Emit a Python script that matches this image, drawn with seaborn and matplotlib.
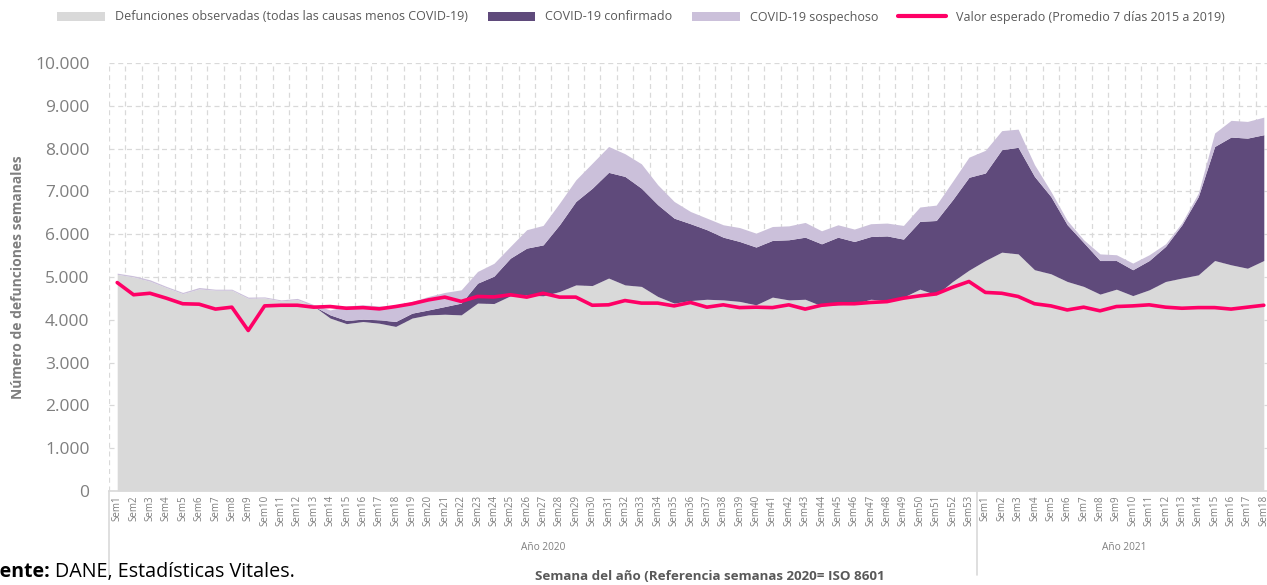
import numpy as np
import pandas as pd
import matplotlib
matplotlib.use("Agg")
import matplotlib.pyplot as plt
import matplotlib.transforms as mtransforms
from matplotlib.patches import Patch
from matplotlib.lines import Line2D
from matplotlib.ticker import FuncFormatter, MultipleLocator
import seaborn as sns

# Semanas: 53 de 2020 y 18 de 2021
semanas_2020 = [f"Sem{i}" for i in range(1, 54)]
semanas_2021 = [f"Sem{i}" for i in range(1, 19)]
etiquetas = semanas_2020 + semanas_2021

# Defunciones observadas (todas las causas menos COVID-19)
observadas = [
    5060, 5000, 4900, 4750, 4610, 4720, 4690, 4690, 4500, 4510,
    4440, 4470, 4320, 4040, 3910, 3960, 3920, 3845, 4040, 4115,
    4130, 4115, 4390, 4380, 4560, 4580, 4560, 4660, 4815, 4800,
    4975, 4815, 4780, 4545, 4390, 4450, 4480, 4465, 4430, 4350,
    4530, 4465, 4480, 4325, 4350, 4375, 4480, 4450, 4530, 4715,
    4585, 4895, 5160,
    5385, 5580, 5540, 5170, 5075, 4895, 4780, 4600, 4715, 4565,
    4700, 4895, 4975, 5050, 5385, 5285, 5205, 5385,
]

# COVID-19 confirmado
confirmados = [
    0, 0, 0, 0, 0, 0, 0, 0, 0, 0,
    0, 0, 0, 75, 75, 55, 80, 115, 115, 115,
    180, 275, 466, 640, 880, 1095, 1190, 1560, 1950, 2275,
    2470, 2535, 2295, 2145, 1985, 1795, 1625, 1465, 1400, 1350,
    1325, 1405, 1450, 1450, 1580, 1455, 1465, 1510, 1355, 1585,
    1735, 1910, 2170,
    2045, 2395, 2490, 2180, 1805, 1325, 1025, 785, 670, 605,
    685, 820, 1245, 1830, 2665, 2985, 3040, 2940,
]

# COVID-19 sospechoso
sospechosos = [
    30, 30, 35, 30, 30, 35, 25, 25, 30, 25,
    25, 30, 35, 115, 340, 335, 325, 365, 275, 315,
    330, 310, 274, 300, 275, 430, 455, 505, 505, 585,
    605, 530, 570, 465, 390, 285, 270, 290, 325, 325,
    325, 325, 345, 305, 290, 290, 300, 300, 320, 335,
    360, 430, 470,
    530, 445, 425, 275, 120, 100, 65, 155, 135, 155,
    135, 60, 50, 80, 315, 390, 390, 410,
]

# Valor esperado (Promedio 7 dias 2015 a 2019)
esperado = [
    4870, 4585, 4620, 4505, 4375, 4365, 4250, 4295, 3750, 4325,
    4340, 4340, 4295, 4310, 4270, 4285, 4255, 4310, 4375, 4465,
    4530, 4430, 4545, 4535, 4585, 4530, 4620, 4530, 4530, 4340,
    4350, 4450, 4390, 4390, 4325, 4405, 4295, 4350, 4285, 4295,
    4285, 4350, 4250, 4340, 4375, 4375, 4405, 4425, 4505, 4560,
    4605, 4760, 4895,
    4640, 4620, 4545, 4375, 4325, 4230, 4295, 4210, 4310, 4325,
    4350, 4295, 4270, 4285, 4285, 4250, 4295, 4340,
]

df = pd.DataFrame({
    "pos": np.arange(1, len(etiquetas) + 1),
    "semana": etiquetas,
    "observadas": observadas,
    "confirmados": confirmados,
    "sospechosos": sospechosos,
    "esperado": esperado,
})

GRIS = "#D9D9D9"
MORADO = "#5F4A7B"
LILA = "#CBC0DA"
ROSA = "#FF0066"
TXT = "#7F7F7F"

sns.set_theme(style="white")
plt.rcParams["font.family"] = ["Open Sans", "DejaVu Sans"]

fig = plt.figure(figsize=(12.67, 5.85), dpi=100)
ax = fig.add_axes([109 / 1267, 94 / 585, 1163 / 1267, 428 / 585])

ax.stackplot(df["pos"], df["observadas"], df["confirmados"], df["sospechosos"],
             colors=[GRIS, MORADO, LILA], linewidth=0, zorder=2)
sns.lineplot(data=df, x="pos", y="esperado", color=ROSA, linewidth=2.6,
             ax=ax, zorder=3, legend=False)

n = len(etiquetas)
ax.set_xlim(0.5, n + 0.5)
ax.set_ylim(0, 10000)
ax.set_xlabel("")
ax.set_ylabel("")

# grid
ax.set_axisbelow(True)
ax.yaxis.set_major_locator(MultipleLocator(1000))
ax.yaxis.set_major_formatter(FuncFormatter(lambda v, p: f"{int(v):,}".replace(",", ".")))
ax.grid(axis="y", which="major", linestyle=(0, (4, 3)), color="#D9D9D9", linewidth=0.9)
ax.set_xticks(df["pos"])
ax.set_xticklabels(df["semana"], rotation=90, fontsize=7, color=TXT)
ax.set_xticks(np.arange(0.5, n + 1), minor=True)
ax.grid(axis="x", which="minor", linestyle=(0, (4, 3)), color="#D9D9D9", linewidth=0.9)
ax.grid(axis="x", which="major", visible=False)
ax.tick_params(axis="x", which="major", length=0, pad=3)
ax.tick_params(axis="x", which="minor", length=3, color="#D9D9D9")
ax.tick_params(axis="y", length=0, pad=14, labelsize=12.5, labelcolor=TXT)

for s in ["top", "right", "left"]:
    ax.spines[s].set_visible(False)
ax.spines["bottom"].set_color("#D9D9D9")
ax.spines["bottom"].set_linewidth(1.2)

# agrupacion por anio bajo el eje
trans = mtransforms.blended_transform_factory(ax.transData, ax.transAxes)
n20 = len(semanas_2020)
for xs in [0.5, n20 + 0.5]:
    ax.plot([xs, xs], [0, -0.196], transform=trans, color="#D9D9D9",
            linewidth=1.2, clip_on=False)
ax.text((0.5 + n20 + 0.5) / 2, -0.133, "Año 2020", transform=trans,
        ha="center", va="center", fontsize=7.3, color=TXT)
ax.text((n20 + 0.5 + n + 0.5) / 2, -0.133, "Año 2021", transform=trans,
        ha="center", va="center", fontsize=7.3, color=TXT)

fig.text(18 / 1267, 1 - 277 / 585, "Número de defunciones semanales", rotation=90,
         ha="center", va="center", fontsize=10, fontweight="bold", color=TXT)
fig.text(710 / 1267, 1 - 577 / 585, "Semana del año (Referencia semanas 2020= ISO 8601",
         ha="center", va="center", fontsize=9.6, fontweight="bold", color="#595959")
# fuente (recortada a la izquierda como en el original)
fig.text(50 / 1267, 1 - 572 / 585, "Fuente:", ha="right", va="center",
         fontsize=14, fontweight="bold", color="black")
fig.text(55 / 1267, 1 - 572 / 585, "DANE, Estadísticas Vitales.", ha="left",
         va="center", fontsize=14.2, color="black")

handles = [
    Patch(facecolor=GRIS, edgecolor="none"),
    Patch(facecolor=MORADO, edgecolor="none"),
    Patch(facecolor=LILA, edgecolor="none"),
    Line2D([0], [0], color=ROSA, linewidth=3),
]
labels = [
    "Defunciones observadas (todas las causas menos COVID-19)",
    "COVID-19 confirmado",
    "COVID-19 sospechoso",
    "Valor esperado (Promedio 7 días 2015 a 2019)",
]
fig.legend(handles, labels, loc="center", bbox_to_anchor=(641 / 1267, 1 - 17 / 585),
           ncol=4, frameon=False, fontsize=9, handlelength=3.8, handleheight=0.7,
           handletextpad=0.8, columnspacing=1.6, labelcolor="#595959")

fig.savefig("out.png", dpi=100)
